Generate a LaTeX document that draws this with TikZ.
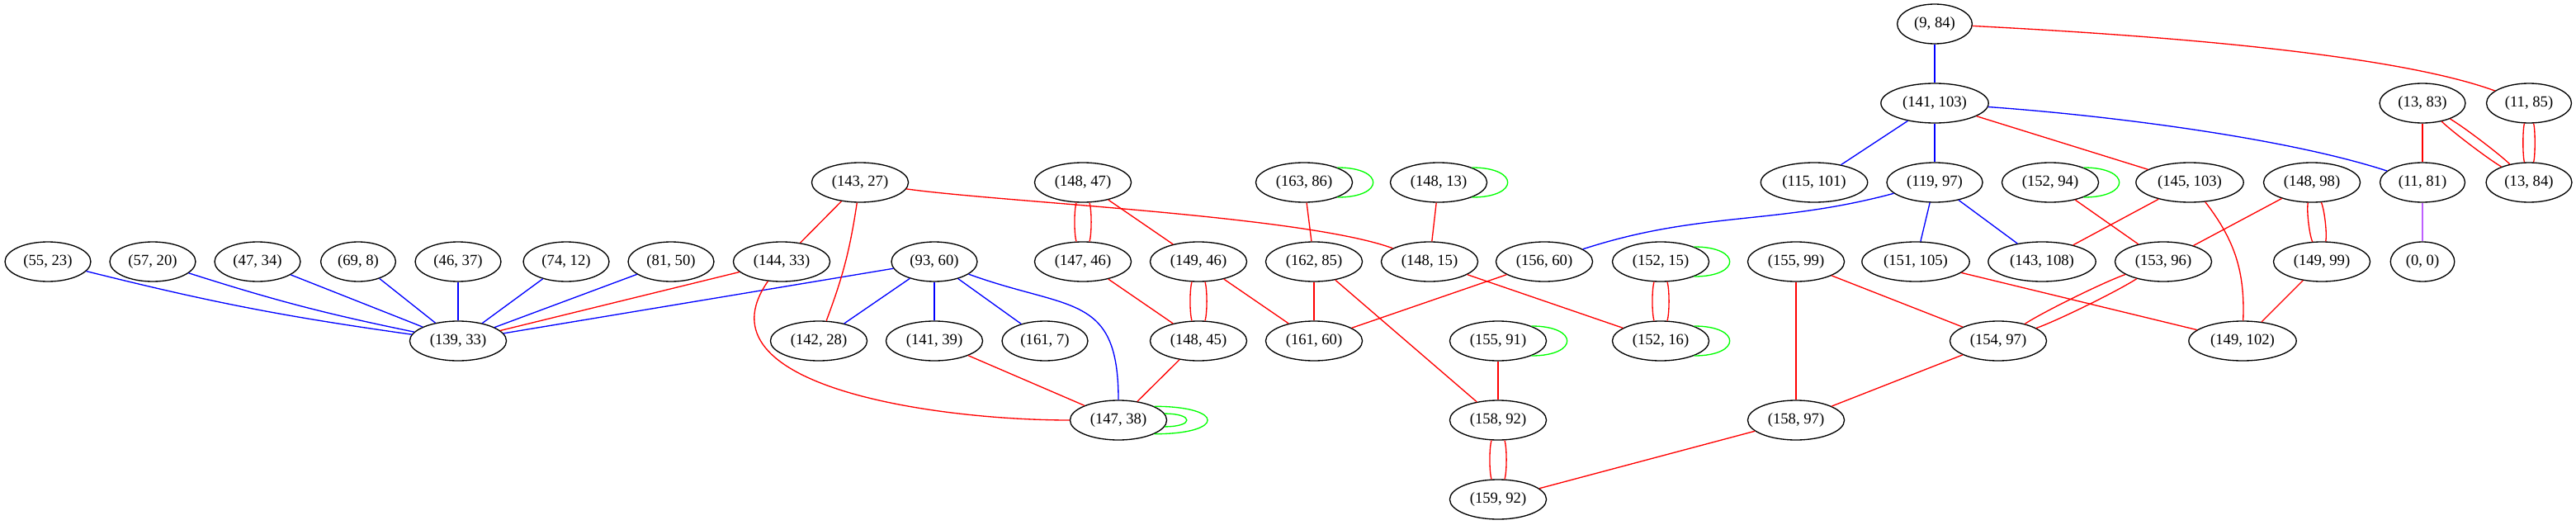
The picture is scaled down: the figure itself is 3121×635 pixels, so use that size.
\documentclass[tikz,border=0pt]{standalone}
\usepackage{fontspec}
\setmainfont{Liberation Serif}
\usetikzlibrary{shapes.geometric}
\definecolor{lilac}{RGB}{190,95,255}

\begin{document}
\begin{tikzpicture}[x=0.75pt,y=-0.75pt,line width=1pt]
    \tikzstyle{every node}+=[inner xsep=5.4pt, inner ysep=3pt, font=\fontsize{14}{16}\selectfont]
    \tikzstyle{vertex}=[draw=black, ellipse, minimum height=36pt]
    \useasboundingbox (0,0) rectangle (3121,635);
    % rank 1
    \draw (2344,29) node [vertex] (n9x84) {(9, 84)};
    % rank 2
    \draw (2344,125) node [vertex] (n141x103) {(141, 103)};
    \draw (2935,125) node [vertex] (n13x83) {(13, 83)};
    \draw (3064,125) node [vertex] (n11x85) {(11, 85)};
    % rank 3
    \draw (1042,221) node [vertex] (n143x27) {(143, 27)};
    \draw (1312,221) node [vertex] (n148x47) {(148, 47)};
    \draw (1580,221) node [vertex] (n163x86) {(163, 86)};
    \draw (1743,221) node [vertex] (n148x13) {(148, 13)};
    \draw (2198,221) node [vertex] (n115x101) {(115, 101)};
    \draw (2344,221) node [vertex] (n119x97) {(119, 97)};
    \draw (2484,221) node [vertex] (n152x94) {(152, 94)};
    \draw (2653,221) node [vertex] (n145x103) {(145, 103)};
    \draw (2801,221) node [vertex] (n148x98) {(148, 98)};
    \draw (2935,221) node [vertex] (n11x81) {(11, 81)};
    \draw (3064,221) node [vertex] (n13x84) {(13, 84)};
    % rank 4
    \draw (58,317) node [vertex] (n55x23) {(55, 23)};
    \draw (185,317) node [vertex] (n57x20) {(57, 20)};
    \draw (312,317) node [vertex] (n47x34) {(47, 34)};
    \draw (434,317) node [vertex] (n69x8) {(69, 8)};
    \draw (555,317) node [vertex] (n46x37) {(46, 37)};
    \draw (686,317) node [vertex] (n74x12) {(74, 12)};
    \draw (813,317) node [vertex] (n81x50) {(81, 50)};
    \draw (947,317) node [vertex] (n144x33) {(144, 33)};
    \draw (1132,317) node [vertex] (n93x60) {(93, 60)};
    \draw (1312,317) node [vertex] (n147x46) {(147, 46)};
    \draw (1452,317) node [vertex] (n149x46) {(149, 46)};
    \draw (1592,317) node [vertex] (n162x85) {(162, 85)};
    \draw (1732,317) node [vertex] (n148x15) {(148, 15)};
    \draw (1871,317) node [vertex] (n156x60) {(156, 60)};
    \draw (2012,317) node [vertex] (n152x15) {(152, 15)};
    \draw (2176,317) node [vertex] (n155x99) {(155, 99)};
    \draw (2321,317) node [vertex] (n151x105) {(151, 105)};
    \draw (2474,317) node [vertex] (n143x108) {(143, 108)};
    \draw (2621,317) node [vertex] (n153x96) {(153, 96)};
    \draw (2813,317) node [vertex] (n149x99) {(149, 99)};
    \draw (2935,317) node [vertex] (n0x0) {(0, 0)};
    % rank 5
    \draw (555,413) node [vertex] (n139x33) {(139, 33)};
    \draw (992,413) node [vertex] (n142x28) {(142, 28)};
    \draw (1132,413) node [vertex] (n141x39) {(141, 39)};
    \draw (1266,413) node [vertex] (n161x7) {(161, 7)};
    \draw (1452,413) node [vertex] (n148x45) {(148, 45)};
    \draw (1592,413) node [vertex] (n161x60) {(161, 60)};
    \draw (1815,413) node [vertex] (n155x91) {(155, 91)};
    \draw (2012,413) node [vertex] (n152x16) {(152, 16)};
    \draw (2421,413) node [vertex] (n154x97) {(154, 97)};
    \draw (2717,413) node [vertex] (n149x102) {(149, 102)};
    % rank 6 and 7
    \draw (1355,509) node [vertex] (n147x38) {(147, 38)};
    \draw (1815,509) node [vertex] (n158x92) {(158, 92)};
    \draw (2176,509) node [vertex] (n158x97) {(158, 97)};
    \draw (1815,605) node [vertex] (n159x92) {(159, 92)};
    % blue edges
    \draw [blue] (n55x23) to [bend right=3] (n139x33);
    \draw [blue] (n57x20) to [bend right=3] (n139x33);
    \draw [blue] (n47x34) -- (n139x33);
    \draw [blue] (n69x8) -- (n139x33);
    \draw [blue] (n46x37) -- (n139x33);
    \draw [blue] (n74x12) -- (n139x33);
    \draw [blue] (n81x50) -- (n139x33);
    \draw [blue] (n93x60) -- (n139x33);
    \draw [blue] (n93x60) -- (n142x28);
    \draw [blue] (n93x60) -- (n141x39);
    \draw [blue] (n93x60) -- (n161x7);
    \draw [blue] (n93x60) to [out=-20,in=90,looseness=1.4] (n147x38);
    \draw [blue] (n9x84) -- (n141x103);
    \draw [blue] (n141x103) -- (n115x101);
    \draw [blue] (n141x103) -- (n119x97);
    \draw [blue] (n141x103) to [out=-4,in=162,looseness=0.7] (n11x81);
    \draw [blue] (n119x97) to [out=195,in=18] (n156x60);
    \draw [blue] (n119x97) -- (n151x105);
    \draw [blue] (n119x97) -- (n143x108);
    \draw [lilac] (n11x81) -- (n0x0);
    % red edges
    \draw [red] (n144x33) -- (n139x33);
    \draw [red] (n143x27) -- (n144x33);
    \draw [red] (n143x27) to [bend left=6] (n142x28);
    \draw [red] (n143x27) to [out=-8,in=160,looseness=0.5] (n148x15);
    \draw [red] (n144x33) to [out=-125,in=180] (n147x38);
    \draw [red] (n148x47) to [bend left=18,looseness=0.5] (n147x46);
    \draw [red] (n148x47) to [bend right=18,looseness=0.5] (n147x46);
    \draw [red] (n148x47) -- (n149x46);
    \draw [red] (n147x46) -- (n148x45);
    \draw [red] (n149x46) to [bend left=18,looseness=0.5] (n148x45);
    \draw [red] (n149x46) to [bend right=18,looseness=0.5] (n148x45);
    \draw [red] (n149x46) -- (n161x60);
    \draw [red] (n141x39) -- (n147x38);
    \draw [red] (n148x45) -- (n147x38);
    \draw [red] (n163x86) -- (n162x85);
    \draw [red] (n162x85) -- (n161x60);
    \draw [red] (n162x85) -- (n158x92);
    \draw [red] (n148x13) -- (n148x15);
    \draw [red] (n148x15) -- (n152x16);
    \draw [red] (n156x60) -- (n161x60);
    \draw [red] (n152x15) to [bend left=18,looseness=0.5] (n152x16);
    \draw [red] (n152x15) to [bend right=18,looseness=0.5] (n152x16);
    \draw [red] (n155x91) -- (n158x92);
    \draw [red] (n158x92) to [bend left=18,looseness=0.5] (n159x92);
    \draw [red] (n158x92) to [bend right=18,looseness=0.5] (n159x92);
    \draw [red] (n158x97) -- (n159x92);
    \draw [red] (n155x99) -- (n158x97);
    \draw [red] (n155x99) -- (n154x97);
    \draw [red] (n151x105) -- (n149x102);
    \draw [red] (n152x94) -- (n153x96);
    \draw [red] (n145x103) -- (n143x108);
    \draw [red] (n145x103) to [bend left=20] (n149x102);
    \draw [red] (n141x103) -- (n145x103);
    \draw [red] (n148x98) -- (n153x96);
    \draw [red] (n148x98) to [bend left=18,looseness=0.5] (n149x99);
    \draw [red] (n148x98) to [bend right=18,looseness=0.5] (n149x99);
    \draw [red] (n149x99) -- (n149x102);
    \draw [red] (n153x96) to [bend left=7,looseness=0.5] (n154x97);
    \draw [red] (n153x96) to [bend right=7,looseness=0.5] (n154x97);
    \draw [red] (n154x97) -- (n158x97);
    \draw [red] (n9x84) to [out=-3,in=160,looseness=0.6] (n11x85);
    \draw [red] (n13x83) -- (n11x81);
    \draw [red] (n13x83) to [bend left=7,looseness=0.5] (n13x84);
    \draw [red] (n13x83) to [bend right=7,looseness=0.5] (n13x84);
    \draw [red] (n11x85) to [bend left=13,looseness=0.5] (n13x84);
    \draw [red] (n11x85) to [bend right=13,looseness=0.5] (n13x84);
    % green loops
    \draw [green] (n163x86.24) to [out=0,in=0,looseness=4.1] (n163x86.-24);
    \draw [green] (n148x13.24) to [out=0,in=0,looseness=4.1] (n148x13.-24);
    \draw [green] (n152x94.24) to [out=0,in=0,looseness=4.1] (n152x94.-24);
    \draw [green] (n152x15.24) to [out=0,in=0,looseness=4.1] (n152x15.-24);
    \draw [green] (n152x16.24) to [out=0,in=0,looseness=4.1] (n152x16.-24);
    \draw [green] (n155x91.24) to [out=0,in=0,looseness=4.1] (n155x91.-24);
    \draw [green] (n147x38.8) to [out=0,in=0,looseness=5.8] (n147x38.-8);
    \draw [green] (n147x38.21) to [out=0,in=0,looseness=6.6] (n147x38.-21);
\end{tikzpicture}
\end{document}
